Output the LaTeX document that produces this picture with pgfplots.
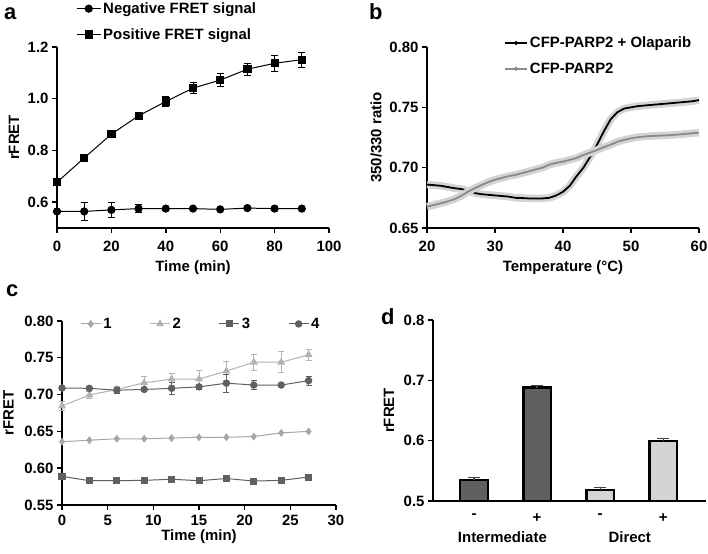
\documentclass[border=0pt]{standalone}
\usepackage{pgfplots}
\pgfplotsset{compat=1.18}
\usepackage{fontspec}
\setmainfont{Liberation Sans}

\definecolor{dk}{HTML}{606060}
\definecolor{lt}{HTML}{A6A6A6}
\definecolor{lt2}{HTML}{B2B2B2}
\definecolor{barlt}{HTML}{D4D4D4}
\definecolor{band}{HTML}{D4D4D4}
\definecolor{gline}{HTML}{8A8A8A}

\newcommand{\fs}{\bfseries\fontsize{15}{17}\selectfont}

\pgfplotsset{
  prism/.style={
    scale only axis, clip=false,
    axis x line*=bottom, axis y line*=left,
    axis line style={-, line width=1.4bp},
    tick align=outside, major tick length=5bp,
    tick style={line width=1.4bp, black},
    font=\fs,
    /pgf/number format/assume math mode=true,
    ticklabel style={font=\fs},
    legend style={draw=none, fill=none, font=\fs, inner sep=0pt, cells={anchor=west}},
    every axis y label/.append style={anchor=center},
    every axis x label/.append style={anchor=center},
  },
  ebars/.style={error bars/.cd, y dir=both, y explicit,
    error bar style={line width=1bp}, error mark options={rotate=90, mark size=#1, line width=1bp}},
}

% panel a
\pgfplotstableread{
x y e
0 0.564 0.005
10 0.564 0.034
20 0.570 0.029
30 0.575 0.016
40 0.575 0.006
50 0.575 0.005
60 0.572 0.005
70 0.577 0.005
80 0.575 0.005
90 0.575 0.005
}\negsig
\pgfplotstableread{
x y e
0 0.677 0.008
10 0.771 0.008
20 0.863 0.013
30 0.934 0.012
40 0.989 0.018
50 1.041 0.022
60 1.072 0.024
70 1.114 0.024
80 1.137 0.032
90 1.151 0.029
}\possig

% panel b
\pgfplotstableread{
t r
20 0.6860
21 0.6855
22 0.6850
23 0.6840
24 0.6830
25 0.6823
26 0.6810
27 0.6790
28 0.6780
29 0.6775
30 0.6770
31 0.6765
32 0.6760
33 0.6750
34 0.6748
35 0.6745
36 0.6745
37 0.6745
38 0.6750
39 0.6770
40 0.6800
41 0.6850
42 0.6930
43 0.7000
44 0.7090
45 0.7190
46 0.7300
47 0.7400
48 0.7460
49 0.7490
50 0.7500
51 0.7510
52 0.7515
53 0.7520
54 0.7525
55 0.7530
56 0.7535
57 0.7540
58 0.7545
59 0.7550
60 0.7560
}\olap
\pgfplotstableread{
t r
20 0.6677
21 0.6690
22 0.6705
23 0.6720
24 0.6738
25 0.6765
26 0.6800
27 0.6830
28 0.6855
29 0.6880
30 0.6900
31 0.6915
32 0.6930
33 0.6940
34 0.6955
35 0.6970
36 0.6985
37 0.7000
38 0.7025
39 0.7040
40 0.7050
41 0.7065
42 0.7080
43 0.7105
44 0.7125
45 0.7146
46 0.7170
47 0.7190
48 0.7215
49 0.7230
50 0.7243
51 0.7252
52 0.7258
53 0.7262
54 0.7265
55 0.7267
56 0.7270
57 0.7275
58 0.7280
59 0.7285
60 0.7290
}\parp

% panel c
\pgfplotstableread{
x s1 s2 e2 s3 s4 e4
0 0.636 0.6845 0.006 0.589 0.709 0.002
3 0.638 0.6995 0.005 0.583 0.7085 0.002
6 0.640 0.707 0.004 0.583 0.706 0.004
9 0.640 0.716 0.009 0.5835 0.707 0.003
12 0.641 0.721 0.008 0.585 0.7085 0.008
15 0.642 0.721 0.012 0.583 0.7105 0.003
18 0.642 0.732 0.013 0.586 0.7155 0.012
21 0.643 0.744 0.011 0.5825 0.713 0.006
24 0.648 0.744 0.014 0.5835 0.713 0.002
27 0.650 0.754 0.007 0.588 0.719 0.006
}\tabc

\begin{document}
\begin{tikzpicture}
\useasboundingbox (0,0) rectangle (708bp,554bp);

% ---- a ----
\begin{axis}[prism, at={(57bp,326bp)}, anchor=south west, width=272bp, height=181bp,
  xmin=0, xmax=100, ymin=0.5, ymax=1.2,
  xtick={0,20,...,100}, ytick={0.6,0.8,1.0,1.2},
  xticklabel style={yshift=-5bp},
  yticklabel style={/pgf/number format/.cd, fixed, fixed zerofill, precision=1},
  xlabel={Time (min)}, ylabel={rFRET},
  xlabel style={at={(axis description cs:0.5,-0.221)}},
  ylabel style={at={(axis description cs:-0.158,0.5)}},
  legend style={at={(axis description cs:0.07,1.258)}, anchor=north west, row sep=9.5bp},
  legend image code/.code={\draw[mark repeat=2,mark phase=2,#1] plot coordinates {(0bp,0bp)(12bp,0bp)(24bp,0bp)};},
]
\addplot[black, line width=1bp, mark=*, mark size=3.6bp, ebars=3.5bp] table[x=x, y=y, y error=e] {\negsig};
\addplot[black, line width=1bp, mark=square*, mark size=3.6bp, ebars=3.5bp] table[x=x, y=y, y error=e] {\possig};
\legend{Negative FRET signal, Positive FRET signal}
\end{axis}

% ---- b ----
\begin{axis}[prism, at={(427bp,326bp)}, anchor=south west, width=272bp, height=181bp,
  xmin=20, xmax=60, ymin=0.65, ymax=0.80,
  xtick={20,30,...,60}, ytick={0.65,0.70,0.75,0.80},
  xticklabel style={yshift=-5bp},
  yticklabel style={/pgf/number format/.cd, fixed, fixed zerofill, precision=2},
  xlabel={Temperature (°C)}, ylabel={350/330 ratio},
  xlabel style={at={(axis description cs:0.5,-0.221)}},
  ylabel style={at={(axis description cs:-0.1875,0.5)}},
  legend style={at={(axis description cs:0.283,1.068)}, anchor=north west, row sep=9.5bp},
  legend image code/.code={\draw[#1] (0bp,0bp) -- (22bp,0bp); \fill[#1] (11bp,0bp) circle (1bp);},
]
\addplot[band, line width=7.5bp, forget plot] table[x=t, y=r] {\olap};
\addplot[black, line width=1.8bp] table[x=t, y=r] {\olap};
\addplot[band, line width=7.5bp, forget plot] table[x=t, y=r] {\parp};
\addplot[gline, line width=1.8bp] table[x=t, y=r] {\parp};
\legend{CFP-PARP2 + Olaparib, CFP-PARP2}
\end{axis}

% ---- c ----
\begin{axis}[prism, at={(62bp,49bp)}, anchor=south west, width=274bp, height=184bp,
  xmin=0, xmax=30, ymin=0.55, ymax=0.80,
  xtick={0,5,...,30}, ytick={0.55,0.6,0.65,0.7,0.75,0.8},
  xticklabel style={yshift=-2bp},
  yticklabel style={/pgf/number format/.cd, fixed, fixed zerofill, precision=2},
  xlabel={Time (min)}, ylabel={rFRET},
  xlabel style={at={(axis description cs:0.5,-0.170)}},
  ylabel style={at={(axis description cs:-0.195,0.5)}},
  legend columns=4,
  legend style={at={(axis description cs:0.066,0.984)}, anchor=west,
    /tikz/every even column/.append style={column sep=36bp}},
  legend image code/.code={\draw[mark repeat=2,mark phase=2,#1] plot coordinates {(0bp,0bp)(10bp,0bp)(20bp,0bp)};},
]
\addplot[lt, line width=1bp, mark=diamond*, mark size=3.2bp] table[x=x, y=s1] {\tabc};
\addplot[lt2, line width=1bp, mark=triangle*, mark size=3.6bp, ebars=3bp] table[x=x, y=s2, y error=e2] {\tabc};
\addplot[dk, line width=1bp, mark=square*, mark size=3bp] table[x=x, y=s3] {\tabc};
\addplot[dk, line width=1bp, mark=*, mark size=3.2bp, ebars=3bp] table[x=x, y=s4, y error=e4] {\tabc};
\legend{1, 2, 3, 4}
\end{axis}

% ---- d ----
\begin{axis}[prism, at={(433bp,53bp)}, anchor=south west, width=273bp, height=181bp,
  xmin=0.349, xmax=4.68, ymin=0.5, ymax=0.8,
  xtick={1,2,3,4}, xticklabels={-,+,-,+}, x tick style={draw=none},
  xticklabel style={yshift=-4bp},
  ytick={0.5,0.6,0.7,0.8},
  yticklabel style={/pgf/number format/.cd, fixed, fixed zerofill, precision=1},
  ylabel={rFRET},
  ylabel style={at={(axis description cs:-0.161,0.5)}},
]
\begin{scope}
\clip (axis cs:0.349,0.5) rectangle (axis cs:4.68,0.8);
\addplot[ybar, bar width=27.5bp, bar shift=0pt, fill=dk, draw=black, line width=2.4bp,
  error bars/.cd, y dir=plus, y explicit, error bar style={line width=1.2bp, black!75},
  error mark options={rotate=90, mark size=6bp, line width=1.2bp, black!75}]
  coordinates {(1,0.535) +- (0,0.004) (2,0.688) +- (0,0.003)};
\addplot[ybar, bar width=27.5bp, bar shift=0pt, fill=barlt, draw=black, line width=2.4bp,
  error bars/.cd, y dir=plus, y explicit, error bar style={line width=1.2bp, black!75},
  error mark options={rotate=90, mark size=6bp, line width=1.2bp, black!75}]
  coordinates {(3,0.518) +- (0,0.004) (4,0.599) +- (0,0.005)};
\end{scope}
\node[font=\fs] at ([yshift=-36bp]axis cs:1.45,0.5) {Intermediate};
\node[font=\fs] at ([yshift=-36bp]axis cs:3.47,0.5) {Direct};
\end{axis}

% panel letters
\node[anchor=base west, inner sep=0pt, font=\bfseries\fontsize{22}{24}\selectfont] at (4bp,534bp) {a};
\node[anchor=base west, inner sep=0pt, font=\bfseries\fontsize{22}{24}\selectfont] at (369bp,534bp) {b};
\node[anchor=base west, inner sep=0pt, font=\bfseries\fontsize{22}{24}\selectfont] at (6bp,257bp) {c};
\node[anchor=base west, inner sep=0pt, font=\bfseries\fontsize{22}{24}\selectfont] at (381bp,229bp) {d};
\end{tikzpicture}
\end{document}
